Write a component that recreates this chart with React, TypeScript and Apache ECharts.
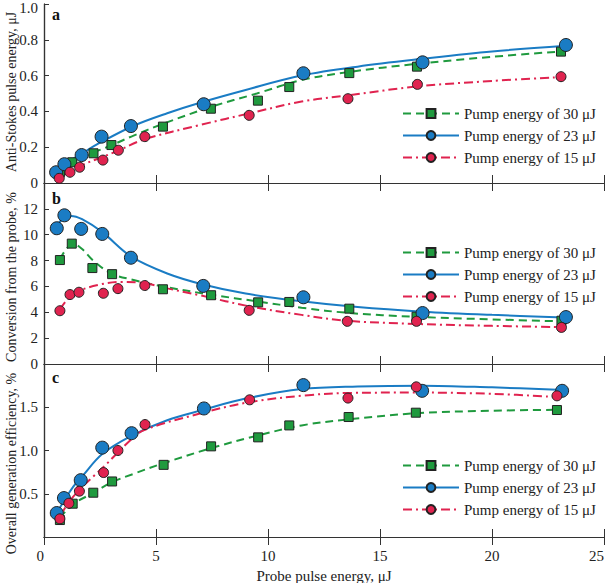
import React, { useEffect, useRef } from "react";
import * as echarts from "echarts";

// ---------- data ----------
const xTicks = [0, 5, 10, 15, 20, 25];
const names = ["Pump energy of 30 μJ", "Pump energy of 23 μJ", "Pump energy of 15 μJ"];

// Panel a: anti-Stokes pulse energy, μJ
const aPts30 = [[0.71, 0.06], [1.26, 0.116], [2.21, 0.166], [3.01, 0.212], [5.31, 0.315], [7.45, 0.415], [9.55, 0.46], [10.95, 0.536], [13.63, 0.614], [16.65, 0.65], [23.08, 0.734]];
const aPts23 = [[0.54, 0.06], [0.91, 0.105], [1.68, 0.156], [2.57, 0.259], [3.88, 0.318], [7.13, 0.44], [11.58, 0.613], [16.9, 0.674], [23.3, 0.771]];
const aPts15 = [[0.68, 0.026], [1.16, 0.06], [1.59, 0.088], [2.63, 0.128], [3.32, 0.183], [4.5, 0.259], [9.16, 0.378], [13.57, 0.471], [16.67, 0.551], [23.08, 0.594]];
const aFit30 = [[0.7, 0.06], [1.3, 0.115], [2.2, 0.17], [3, 0.21], [4, 0.265], [5.3, 0.33], [7.45, 0.425], [9.5, 0.5], [11.5, 0.575], [13.6, 0.62], [16.6, 0.665], [20, 0.705], [23.1, 0.735]];
const aFit23 = [[0.55, 0.06], [1, 0.11], [1.7, 0.165], [2.5, 0.225], [4, 0.32], [5.5, 0.39], [7, 0.45], [9, 0.52], [11.5, 0.6], [14, 0.65], [17, 0.695], [20, 0.735], [23.3, 0.767]];
const aFit15 = [[0.7, 0.035], [1.2, 0.065], [1.7, 0.1], [2.6, 0.145], [3.3, 0.18], [4.5, 0.245], [7, 0.325], [9.2, 0.39], [11.5, 0.455], [13.6, 0.49], [16.7, 0.54], [20, 0.57], [22.8, 0.59]];

// Panel b: conversion from the probe, %
const bPts30 = [[0.71, 8.04], [1.24, 9.31], [2.16, 7.42], [3.04, 6.95], [5.31, 5.78], [7.46, 5.32], [9.56, 4.77], [10.95, 4.8], [13.63, 4.28], [16.63, 3.66], [23.1, 3.35]];
const bPts23 = [[0.57, 10.5], [0.91, 11.5], [1.66, 10.45], [2.6, 10.06], [3.88, 8.22], [7.11, 6.04], [11.58, 5.16], [16.9, 3.94], [23.3, 3.63]];
const bPts15 = [[0.71, 4.12], [1.16, 5.37], [1.56, 5.55], [2.65, 5.47], [3.3, 5.83], [4.5, 6.07], [9.16, 4.15], [13.54, 3.3], [16.63, 3.3], [23.1, 2.83]];
const bFit30 = [[0.71, 8.1], [1.0, 8.9], [1.3, 9.3], [1.7, 8.9], [2.2, 8.0], [3.0, 7.0], [4, 6.5], [5.3, 6.0], [7.5, 5.35], [9.5, 4.85], [11.5, 4.35], [13.6, 3.95], [16.6, 3.65], [20, 3.45], [23.1, 3.3]];
const bFit23 = [[0.55, 10.7], [0.9, 11.3], [1.2, 11.45], [1.7, 11.2], [2.6, 10.2], [3.9, 8.3], [5.5, 7.0], [7.1, 6.15], [9, 5.45], [11.5, 4.85], [14, 4.4], [16.9, 4.05], [20, 3.8], [23.2, 3.6]];
const bFit15 = [[0.71, 4.2], [1.0, 4.9], [1.5, 5.6], [2.5, 6.15], [3.5, 6.35], [4.5, 6.25], [5.5, 5.85], [7, 5.3], [9.2, 4.45], [11.5, 3.8], [13.5, 3.35], [16.6, 3.1], [20, 2.95], [23.1, 2.85]];

// Panel c: overall generation efficiency, %
const cPts30 = [[0.71, 0.196], [1.28, 0.385], [2.2, 0.512], [3.04, 0.642], [5.34, 0.834], [7.46, 1.048], [9.56, 1.152], [10.95, 1.29], [13.6, 1.387], [16.6, 1.437], [22.9, 1.468]];
const cPts23 = [[0.57, 0.277], [0.89, 0.45], [1.64, 0.657], [2.6, 1.033], [3.91, 1.2], [7.14, 1.486], [11.58, 1.756], [16.88, 1.69], [23.13, 1.69]];
const cPts15 = [[0.71, 0.21], [1.11, 0.39], [1.58, 0.53], [2.66, 0.745], [3.3, 1.0], [4.51, 1.3], [9.18, 1.586], [13.57, 1.606], [16.62, 1.736], [22.9, 1.632]];
const cFit30 = [[0.71, 0.22], [1.3, 0.38], [2.2, 0.51], [3.0, 0.63], [4, 0.73], [5.3, 0.85], [7.5, 1.03], [9.5, 1.17], [11.5, 1.29], [13.6, 1.36], [16.6, 1.43], [20, 1.46], [22.9, 1.47]];
const cFit23 = [[0.57, 0.28], [0.9, 0.42], [1.3, 0.58], [1.7, 0.7], [2.6, 0.96], [3.9, 1.17], [5.5, 1.35], [7.1, 1.47], [9, 1.6], [11.5, 1.71], [14, 1.74], [16.9, 1.75], [20, 1.73], [23.2, 1.7]];
const cFit15 = [[0.75, 0.25], [1.1, 0.4], [1.6, 0.55], [2.2, 0.7], [2.7, 0.82], [3.9, 1.13], [4.5, 1.24], [7, 1.43], [9.2, 1.56], [11.8, 1.64], [13.6, 1.665], [16.6, 1.67], [20, 1.655], [22.8, 1.62]];

// ---------- styles ----------
const GREEN = "#1f9a3e";
const BLUE = "#1a7cc4";
const RED = "#e0234f";
const FONT = "'Liberation Serif', 'DejaVu Serif', serif";
const AXC = "#333";

const styles = [
  { color: GREEN, type: [8, 5] as any, symbol: "rect", size: 9 },
  { color: BLUE, type: "solid" as any, symbol: "circle", size: 13 },
  { color: RED, type: [9, 4, 2, 4] as any, symbol: "circle", size: 10 },
];

const App: React.FC = () => {
  const ref = useRef<HTMLDivElement>(null);
  useEffect(() => {
    if (!ref.current) return;
    const chart = echarts.init(ref.current, undefined, { renderer: "svg" });

    const L = 44, W = 560;
    const grids = [
      { left: L, top: 4, width: W, height: 179 },
      { left: L, top: 183, width: W, height: 181 },
      { left: L, top: 364, width: W, height: 173 },
    ];
    const fits = [
      [aFit30, aFit23, aFit15],
      [bFit30, bFit23, bFit15],
      [cFit30, cFit23, cFit15],
    ];
    const pts = [
      [aPts30, aPts23, aPts15],
      [bPts30, bPts23, bPts15],
      [cPts30, cPts23, cPts15],
    ];
    const yCfg = [
      { min: 0, max: 1, interval: 0.2, name: "Anti-Stokes pulse energy, μJ", fmt: (v: number) => (v === 0 ? "0" : v === 1 ? "{t|1.0}" : v.toFixed(1)), hideMin: false, hideMax: false, pad: [0, 0, 0, 3] },
      { min: 0, max: 14, interval: 2, name: "Conversion from the probe, %", fmt: (v: number) => String(v), hideMin: false, hideMax: true, pad: [0, 7, 0, 0] },
      { min: 0, max: 2, interval: 0.5, name: "Overall generation efficiency, %", fmt: (v: number) => v.toFixed(1), hideMin: true, hideMax: true, pad: [0, 26, 0, 0] },
    ];

    const xAxis: any[] = [];
    const yAxis: any[] = [];
    const series: any[] = [];

    for (let g = 0; g < 3; g++) {
      const last = g === 2;
      xAxis.push({
        type: "value", gridIndex: g, min: 0, max: 25, interval: 5, position: "bottom",
        axisLine: { show: true, lineStyle: { color: AXC, width: 1.2 } },
        axisTick: { show: true, inside: true, length: 8, lineStyle: { color: AXC } },
        axisLabel: { show: last, color: "#222", fontFamily: FONT, fontSize: 15, margin: 11, alignMinLabel: "right", alignMaxLabel: "right" },
        splitLine: { show: false },
        name: last ? "Probe pulse energy, μJ" : "",
        nameLocation: "middle", nameGap: 31,
        nameTextStyle: { color: "#222", fontFamily: FONT, fontSize: 15 },
      });
      xAxis.push({
        type: "value", gridIndex: g, min: 0, max: 25, interval: 5, position: "top",
        axisLine: { show: true, lineStyle: { color: AXC, width: 1.2 } },
        axisTick: { show: true, inside: true, length: 8, lineStyle: { color: AXC } },
        axisLabel: { show: false }, splitLine: { show: false },
      });
      const y = yCfg[g];
      yAxis.push({
        type: "value", gridIndex: g, min: y.min, max: y.max, interval: y.interval, position: "left",
        axisLine: { show: true, lineStyle: { color: AXC, width: 1.2 } },
        axisTick: { show: true, inside: true, length: 5, lineStyle: { color: AXC } },
        axisLabel: {
          color: "#222", fontFamily: FONT, fontSize: 15, margin: 6,
          formatter: y.fmt, showMinLabel: !y.hideMin, showMaxLabel: !y.hideMax,
          rich: { t: { fontFamily: FONT, fontSize: 15, color: "#222", padding: [7, 0, 0, 0] } },
        },
        splitLine: { show: false },
        name: y.name, nameLocation: "middle", nameGap: 26, nameMoveOverlap: false,
        nameTextStyle: { color: "#222", fontFamily: FONT, fontSize: 14, padding: y.pad },
      });
      yAxis.push({
        type: "value", gridIndex: g, min: y.min, max: y.max, interval: y.interval, position: "right",
        axisLine: { show: true, lineStyle: { color: AXC, width: 1.2 } },
        axisTick: { show: false }, axisLabel: { show: false }, splitLine: { show: false },
      });
    }

    // fit curves first (legend takes icon from first series of each name)
    for (let g = 0; g < 3; g++) {
      for (let s = 0; s < 3; s++) {
        const st = styles[s];
        series.push({
          type: "line", name: names[s], xAxisIndex: g * 2, yAxisIndex: g * 2,
          data: fits[g][s], smooth: 0.35, showSymbol: false, symbol: st.symbol,
          lineStyle: { color: st.color, width: 2, type: st.type },
          itemStyle: { color: st.color, borderColor: "#222", borderWidth: 1 },
          emphasis: { disabled: true }, silent: true, z: 2,
        });
      }
    }
    const order = [2, 0, 1];
    for (let g = 0; g < 3; g++) {
      for (const s of order) {
        const st = styles[s];
        series.push({
          type: "scatter", name: "pts" + g + s, xAxisIndex: g * 2, yAxisIndex: g * 2,
          data: pts[g][s], symbol: st.symbol, symbolSize: st.size,
          itemStyle: { color: st.color, borderColor: "#222", borderWidth: 1, opacity: 1 },
          emphasis: { disabled: true }, silent: true, z: 3 + s,
        });
      }
    }

    const legendTops = [106, 245, 458];
    const legend = legendTops.map((t) => ({
      data: names,
      orient: "vertical", left: 402, top: t, padding: 0, itemWidth: 56, itemHeight: 11, itemGap: 7,
      formatter: (n: string) => `{s|${n}}`,
      textStyle: {
        color: "#222", fontFamily: FONT, fontSize: 15,
        rich: { s: { fontFamily: FONT, fontSize: 15, color: "#222" } },
      },
      selectedMode: false,
    }));

    const letters = ["a", "b", "c"];
    const graphic = letters.map((l, i) => ({
      type: "text", left: 52, top: [6, 190, 369][i],
      style: { text: l, fontFamily: FONT, fontWeight: "bold", fontSize: 16, fill: "#111" },
    }));

    chart.setOption({
      animation: false,
      backgroundColor: "#fff",
      textStyle: { fontFamily: FONT },
      grid: grids.map((g) => ({ ...g, containLabel: false, outerBoundsMode: "none" })),
      xAxis, yAxis, series, legend, graphic,
    });
    return () => chart.dispose();
  }, []);
  return <div ref={ref} style={{ position: "fixed", left: 0, top: 0, width: 609, height: 583 }} />;
};

export default App;
